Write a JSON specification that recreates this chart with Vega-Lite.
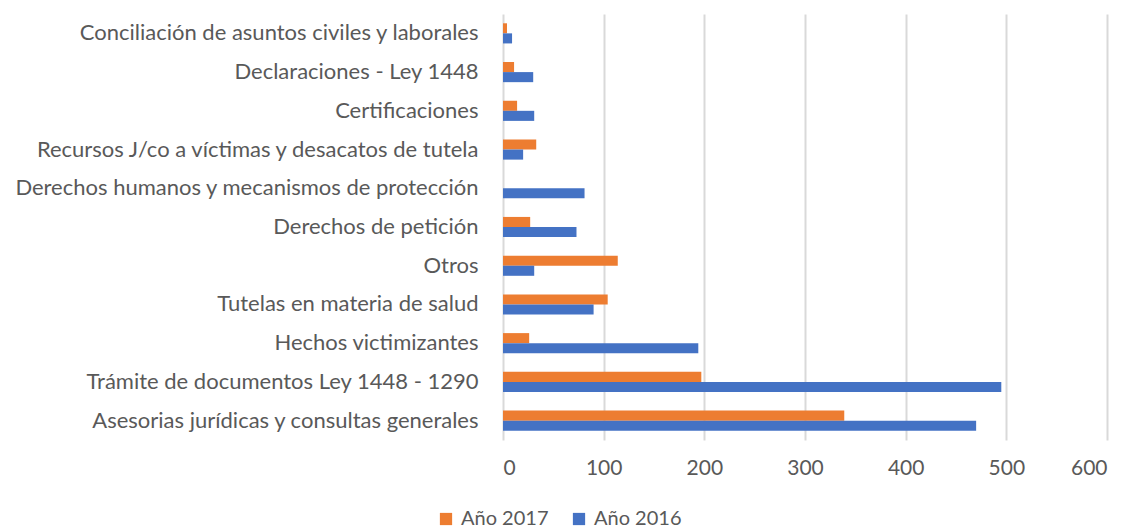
{
  "$schema": "https://vega.github.io/schema/vega-lite/v6.json",
  "autosize": "none",
  "width": 604,
  "height": 426,
  "padding": {"left": 503, "top": 14, "right": 20, "bottom": 91},
  "background": "white",
  "data": {"values": [
    {"cat": "Conciliación de asuntos civiles y laborales", "serie": "Año 2017", "v": 4},
    {"cat": "Conciliación de asuntos civiles y laborales", "serie": "Año 2016", "v": 9},
    {"cat": "Declaraciones - Ley 1448", "serie": "Año 2017", "v": 11},
    {"cat": "Declaraciones - Ley 1448", "serie": "Año 2016", "v": 30},
    {"cat": "Certificaciones", "serie": "Año 2017", "v": 14},
    {"cat": "Certificaciones", "serie": "Año 2016", "v": 31},
    {"cat": "Recursos J/co a víctimas y desacatos de tutela", "serie": "Año 2017", "v": 33},
    {"cat": "Recursos J/co a víctimas y desacatos de tutela", "serie": "Año 2016", "v": 20},
    {"cat": "Derechos humanos y mecanismos de protección", "serie": "Año 2017", "v": 0},
    {"cat": "Derechos humanos y mecanismos de protección", "serie": "Año 2016", "v": 81},
    {"cat": "Derechos de petición", "serie": "Año 2017", "v": 27},
    {"cat": "Derechos de petición", "serie": "Año 2016", "v": 73},
    {"cat": "Otros", "serie": "Año 2017", "v": 114},
    {"cat": "Otros", "serie": "Año 2016", "v": 31},
    {"cat": "Tutelas en materia de salud", "serie": "Año 2017", "v": 104},
    {"cat": "Tutelas en materia de salud", "serie": "Año 2016", "v": 90},
    {"cat": "Hechos victimizantes", "serie": "Año 2017", "v": 26},
    {"cat": "Hechos victimizantes", "serie": "Año 2016", "v": 194},
    {"cat": "Trámite de documentos Ley 1448 - 1290", "serie": "Año 2017", "v": 197},
    {"cat": "Trámite de documentos Ley 1448 - 1290", "serie": "Año 2016", "v": 495},
    {"cat": "Asesorias jurídicas y consultas generales", "serie": "Año 2017", "v": 339},
    {"cat": "Asesorias jurídicas y consultas generales", "serie": "Año 2016", "v": 470}
  ]},
  "mark": {"type": "bar"},
  "encoding": {
    "y": {
      "field": "cat", "type": "nominal", "sort": null,
      "scale": {"paddingInner": 0.48, "paddingOuter": 0.24},
      "axis": {"title": null, "domain": false, "ticks": false, "labelLimit": 600, "labelPadding": 25,
               "labelFont": "Lato", "labelFontSize": 22, "labelColor": "#595959"}
    },
    "yOffset": {"field": "serie", "type": "nominal", "sort": ["Año 2017", "Año 2016"], "scale": {"paddingInner": 0, "paddingOuter": 0}},
    "x": {
      "field": "v", "type": "quantitative",
      "scale": {"domain": [0, 600], "nice": false},
      "axis": {"title": null, "values": [0, 100, 200, 300, 400, 500, 600], "domain": false, "ticks": false,
               "labelPadding": 17, "labelFont": "Lato", "labelFontSize": 21, "labelColor": "#595959",
               "gridColor": "#d9d9d9", "gridWidth": 2}
    },
    "color": {
      "field": "serie", "type": "nominal",
      "scale": {"domain": ["Año 2017", "Año 2016"], "range": ["#ED7D31", "#4472C4"]},
      "legend": {"title": null, "orient": "none", "direction": "horizontal", "legendX": -67, "legendY": 495,
                 "symbolType": "square", "symbolSize": 150, "symbolStrokeWidth": 0, "symbolOpacity": 1,
                 "labelFont": "Lato", "labelFontSize": 20, "labelColor": "#595959", "columnPadding": 20, "labelOffset": 5}
    }
  },
  "config": {"view": {"stroke": null}}
}
